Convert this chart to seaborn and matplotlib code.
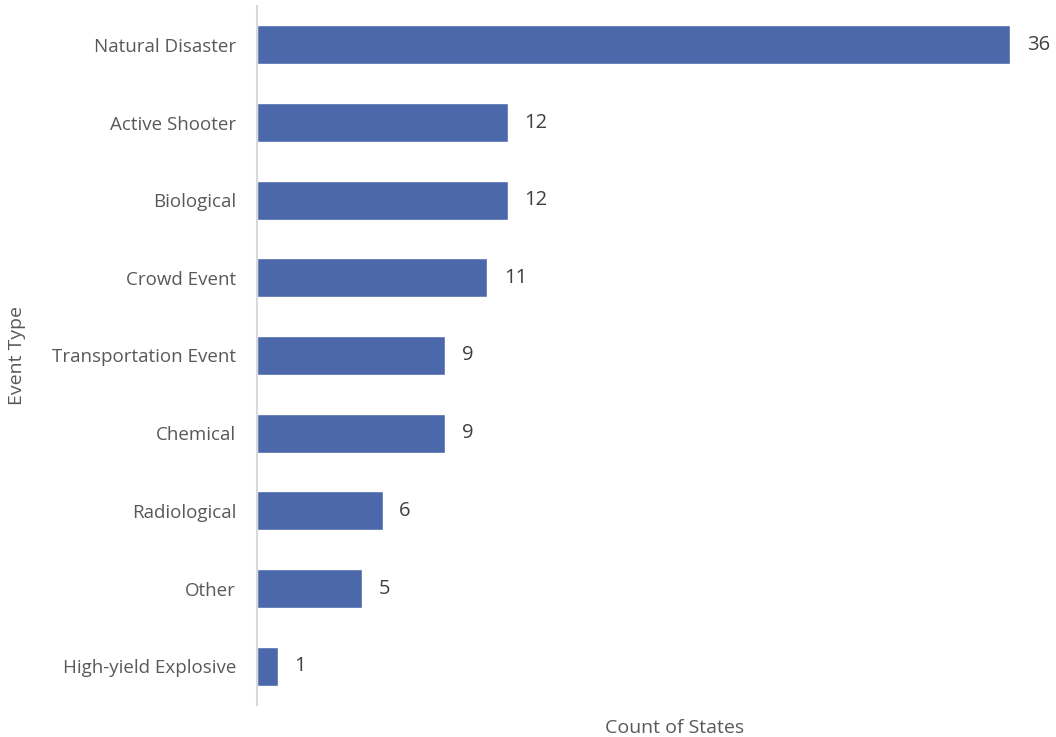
import pandas as pd
import seaborn as sns
import matplotlib.pyplot as plt

# Chart data
event_types = ['Natural Disaster', 'Active Shooter', 'Biological', 'Crowd Event',
               'Transportation Event', 'Chemical', 'Radiological', 'Other',
               'High-yield Explosive']
state_counts = [36, 12, 12, 11, 9, 9, 6, 5, 1]

df = pd.DataFrame({'Event Type': event_types, 'Count of States': state_counts})

sns.set_style('white')
plt.rcParams['font.family'] = ['Open Sans', 'DejaVu Sans']

fig = plt.figure(figsize=(10.56, 7.37), dpi=100)
ax = fig.add_axes([257 / 1056, 32 / 737, 753 / 1056, 699 / 737])

sns.barplot(data=df, x='Count of States', y='Event Type', color='#4a68aa',
            width=0.5, saturation=1, ax=ax)

# Value labels at the bar ends
ax.bar_label(ax.containers[0], padding=12, fontsize=14.5, color='#404040')

ax.set_xlim(0, 36)
ax.set_ylim(8.5, -0.5)
ax.set_xticks([])
ax.tick_params(axis='y', length=0, pad=15, labelsize=13.5, labelcolor='#595959')

for side in ['top', 'right', 'bottom']:
    ax.spines[side].set_visible(False)
ax.spines['left'].set_color('#d9d9d9')
ax.spines['left'].set_linewidth(1.5)

ax.set_xlabel('Count of States', fontsize=14, color='#595959')
ax.set_ylabel('Event Type', fontsize=14, color='#595959')
ax.xaxis.set_label_coords(418 / 753, -14 / 699)
ax.yaxis.set_label_coords(-231 / 753, 0.5)

fig.savefig('out.png', dpi=100)
plt.close(fig)
